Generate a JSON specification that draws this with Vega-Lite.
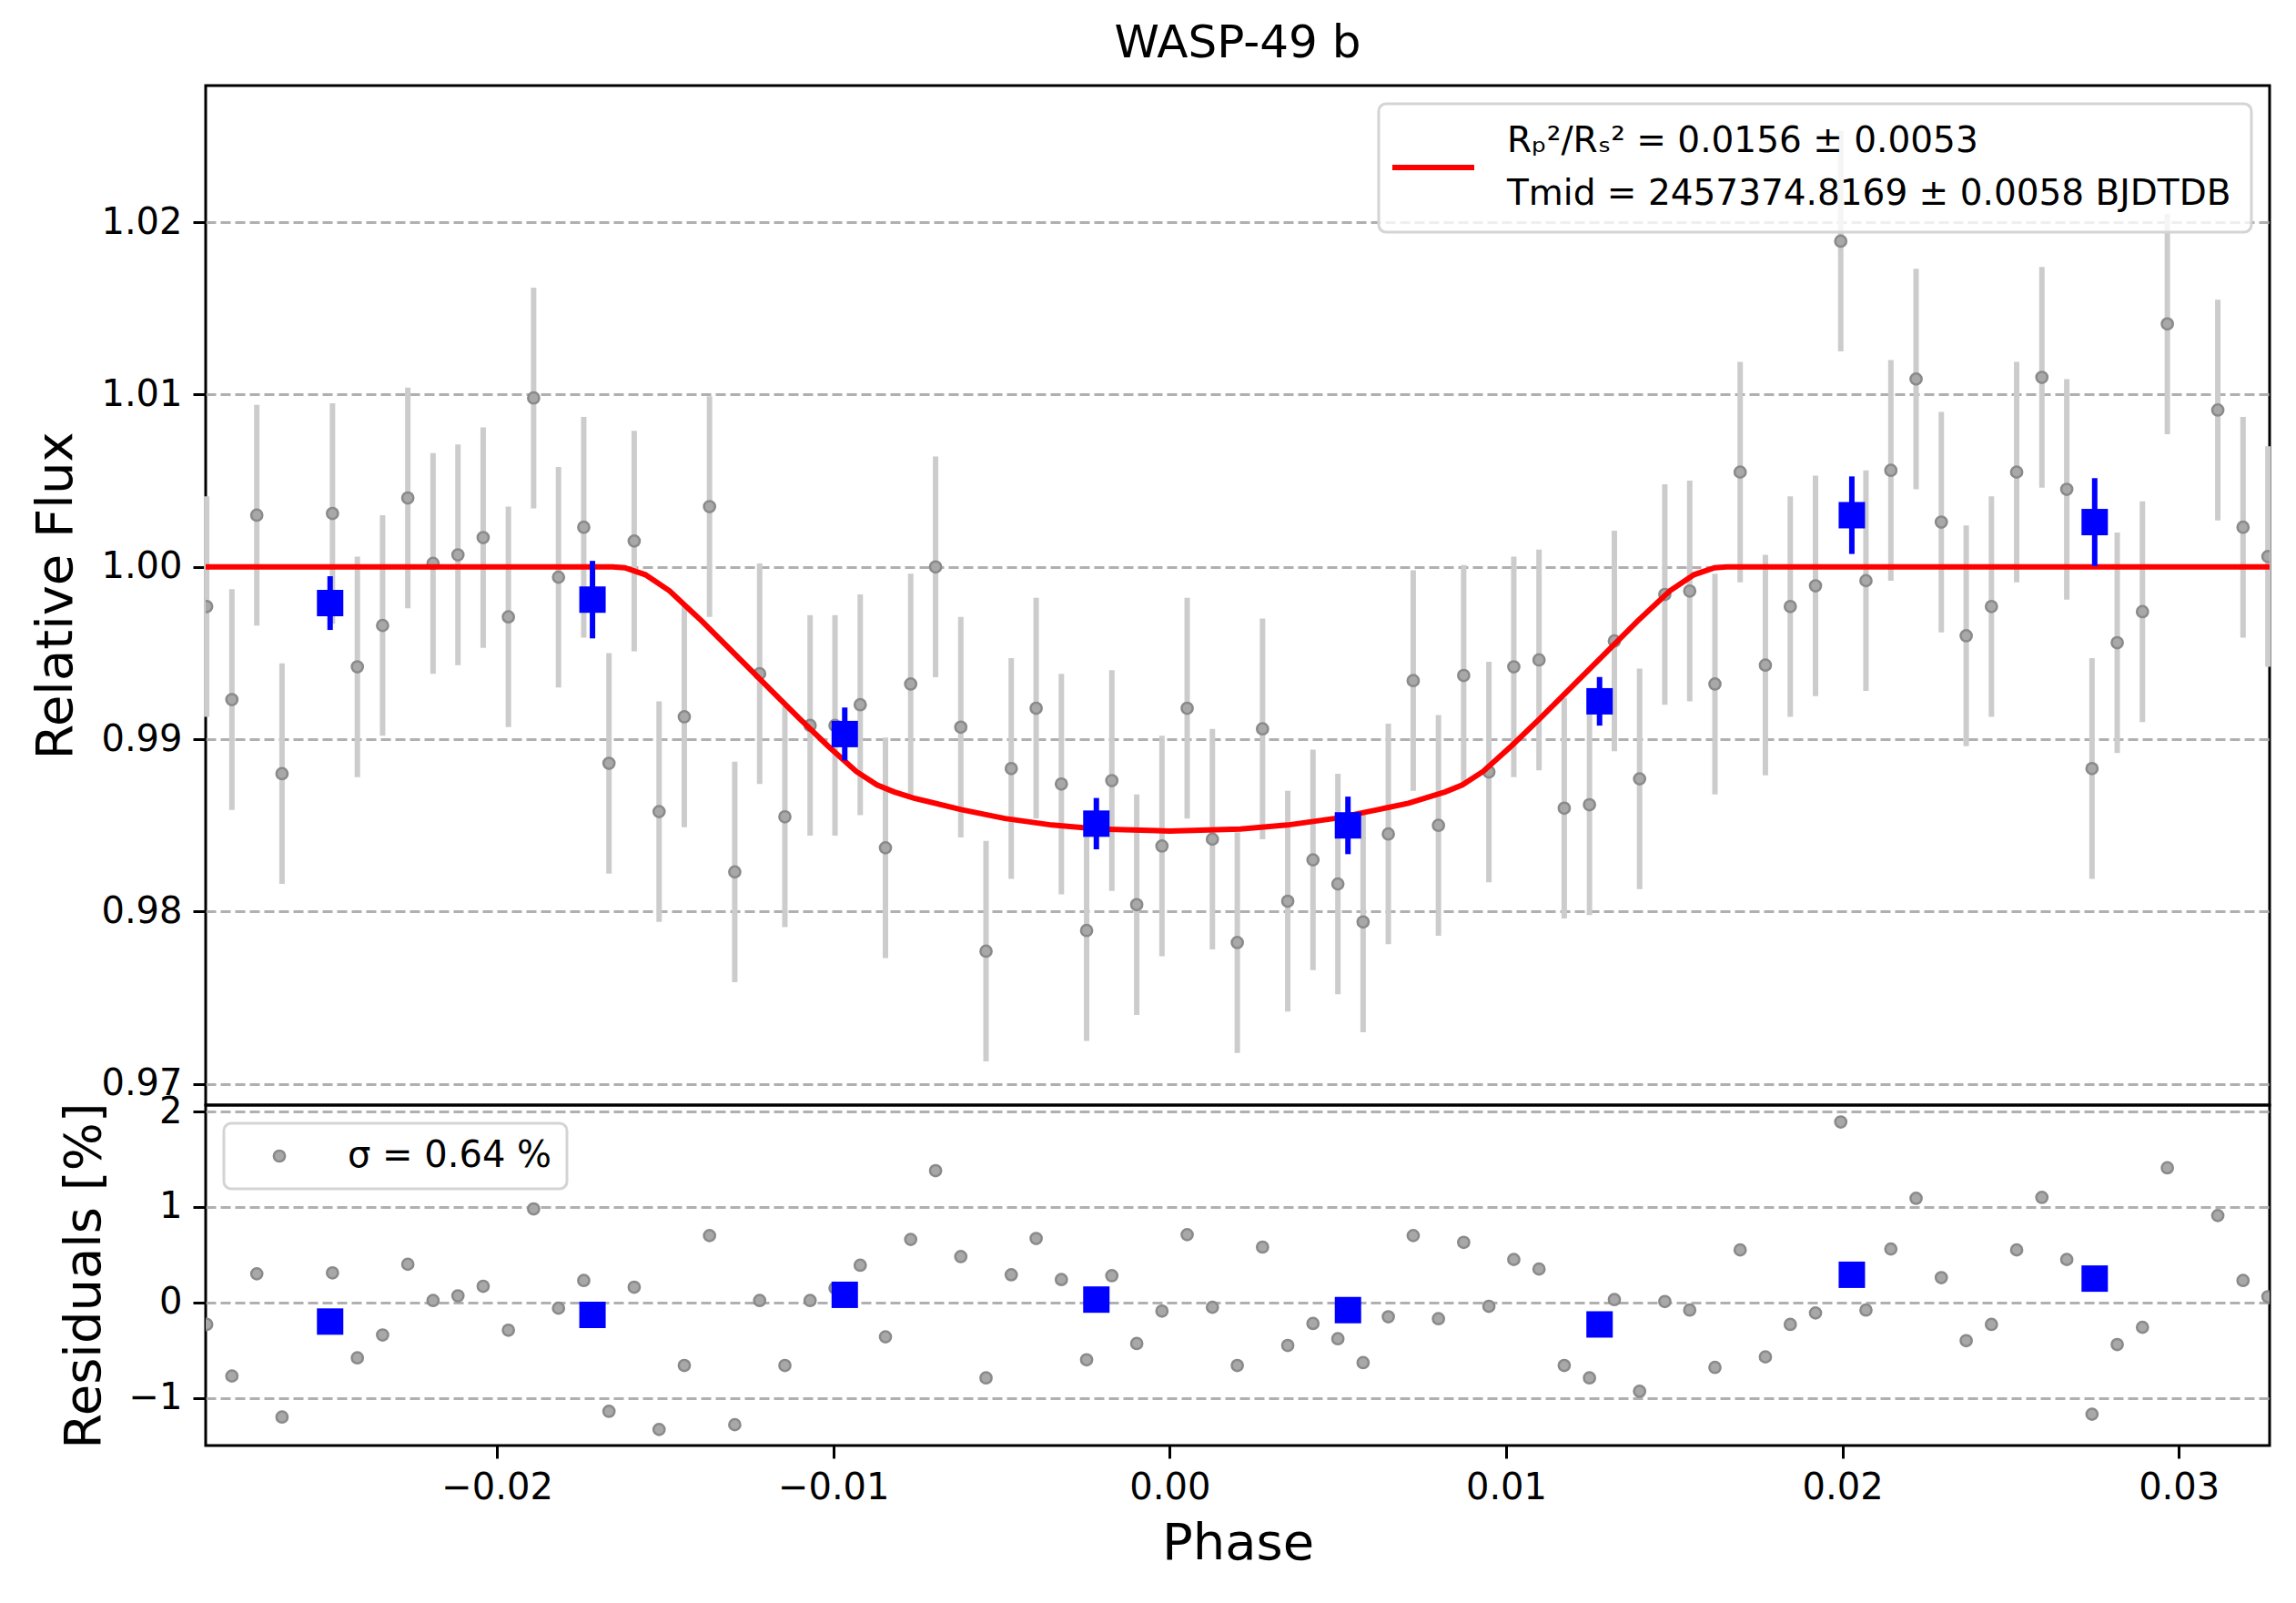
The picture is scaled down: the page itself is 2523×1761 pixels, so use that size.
{
  "$schema": "https://vega.github.io/schema/vega-lite/v6.json",
  "padding": {"left": 32, "top": 22, "right": 20, "bottom": 5},
  "title": {"text": "WASP-49 b", "fontSize": 50, "fontWeight": "normal", "font": "DejaVu Sans", "color": "black", "anchor": "middle", "frame": "group", "offset": 20},
  "datasets": {
    "obs": [
      {"phase": -0.02863, "flux": 0.9977, "err": 0.0064, "resid": -0.23},
      {"phase": -0.02788, "flux": 0.9923, "err": 0.0064, "resid": -0.77},
      {"phase": -0.02714, "flux": 1.0030, "err": 0.0064, "resid": 0.30},
      {"phase": -0.02639, "flux": 0.9880, "err": 0.0064, "resid": -1.20},
      {"phase": -0.02489, "flux": 1.0031, "err": 0.0064, "resid": 0.31},
      {"phase": -0.02415, "flux": 0.9942, "err": 0.0064, "resid": -0.58},
      {"phase": -0.02340, "flux": 0.9966, "err": 0.0064, "resid": -0.34},
      {"phase": -0.02265, "flux": 1.0040, "err": 0.0064, "resid": 0.40},
      {"phase": -0.02190, "flux": 1.0002, "err": 0.0064, "resid": 0.02},
      {"phase": -0.02116, "flux": 1.0007, "err": 0.0064, "resid": 0.07},
      {"phase": -0.02041, "flux": 1.0017, "err": 0.0064, "resid": 0.17},
      {"phase": -0.01966, "flux": 0.9971, "err": 0.0064, "resid": -0.29},
      {"phase": -0.01891, "flux": 1.0098, "err": 0.0064, "resid": 0.98},
      {"phase": -0.01817, "flux": 0.9994, "err": 0.0064, "resid": -0.06},
      {"phase": -0.01742, "flux": 1.0023, "err": 0.0064, "resid": 0.23},
      {"phase": -0.01667, "flux": 0.9886, "err": 0.0064, "resid": -1.14},
      {"phase": -0.01592, "flux": 1.0015, "err": 0.0064, "resid": 0.16},
      {"phase": -0.01518, "flux": 0.9858, "err": 0.0064, "resid": -1.33},
      {"phase": -0.01443, "flux": 0.9913, "err": 0.0064, "resid": -0.66},
      {"phase": -0.01368, "flux": 1.0035, "err": 0.0064, "resid": 0.70},
      {"phase": -0.01293, "flux": 0.9823, "err": 0.0064, "resid": -1.28},
      {"phase": -0.01219, "flux": 0.9938, "err": 0.0064, "resid": 0.02},
      {"phase": -0.01144, "flux": 0.9855, "err": 0.0064, "resid": -0.66},
      {"phase": -0.01069, "flux": 0.9908, "err": 0.0064, "resid": 0.02},
      {"phase": -0.00995, "flux": 0.9908, "err": 0.0064, "resid": 0.15},
      {"phase": -0.00920, "flux": 0.9920, "err": 0.0064, "resid": 0.39},
      {"phase": -0.00845, "flux": 0.9837, "err": 0.0064, "resid": -0.36},
      {"phase": -0.00770, "flux": 0.9932, "err": 0.0064, "resid": 0.66},
      {"phase": -0.00696, "flux": 1.0000, "err": 0.0064, "resid": 1.38},
      {"phase": -0.00621, "flux": 0.9907, "err": 0.0064, "resid": 0.48},
      {"phase": -0.00546, "flux": 0.9777, "err": 0.0064, "resid": -0.79},
      {"phase": -0.00471, "flux": 0.9883, "err": 0.0064, "resid": 0.29},
      {"phase": -0.00397, "flux": 0.9918, "err": 0.0064, "resid": 0.67},
      {"phase": -0.00322, "flux": 0.9874, "err": 0.0064, "resid": 0.24},
      {"phase": -0.00247, "flux": 0.9789, "err": 0.0064, "resid": -0.60},
      {"phase": -0.00172, "flux": 0.9876, "err": 0.0064, "resid": 0.28},
      {"phase": -0.00098, "flux": 0.9804, "err": 0.0064, "resid": -0.43},
      {"phase": -0.00023, "flux": 0.9838, "err": 0.0064, "resid": -0.09},
      {"phase": 0.00052, "flux": 0.9918, "err": 0.0064, "resid": 0.71},
      {"phase": 0.00127, "flux": 0.9842, "err": 0.0064, "resid": -0.05},
      {"phase": 0.00201, "flux": 0.9782, "err": 0.0064, "resid": -0.66},
      {"phase": 0.00276, "flux": 0.9906, "err": 0.0064, "resid": 0.58},
      {"phase": 0.00351, "flux": 0.9806, "err": 0.0064, "resid": -0.45},
      {"phase": 0.00426, "flux": 0.9830, "err": 0.0064, "resid": -0.22},
      {"phase": 0.00500, "flux": 0.9816, "err": 0.0064, "resid": -0.38},
      {"phase": 0.00575, "flux": 0.9794, "err": 0.0064, "resid": -0.63},
      {"phase": 0.00650, "flux": 0.9845, "err": 0.0064, "resid": -0.15},
      {"phase": 0.00724, "flux": 0.9934, "err": 0.0064, "resid": 0.70},
      {"phase": 0.00799, "flux": 0.9850, "err": 0.0064, "resid": -0.17},
      {"phase": 0.00874, "flux": 0.9937, "err": 0.0064, "resid": 0.63},
      {"phase": 0.00949, "flux": 0.9881, "err": 0.0064, "resid": -0.04},
      {"phase": 0.01023, "flux": 0.9942, "err": 0.0064, "resid": 0.45},
      {"phase": 0.01098, "flux": 0.9946, "err": 0.0064, "resid": 0.35},
      {"phase": 0.01173, "flux": 0.9860, "err": 0.0064, "resid": -0.66},
      {"phase": 0.01248, "flux": 0.9862, "err": 0.0064, "resid": -0.79},
      {"phase": 0.01322, "flux": 0.9957, "err": 0.0064, "resid": 0.03},
      {"phase": 0.01397, "flux": 0.9877, "err": 0.0064, "resid": -0.93},
      {"phase": 0.01472, "flux": 0.9984, "err": 0.0064, "resid": 0.01},
      {"phase": 0.01546, "flux": 0.9986, "err": 0.0064, "resid": -0.08},
      {"phase": 0.01621, "flux": 0.9932, "err": 0.0064, "resid": -0.68},
      {"phase": 0.01696, "flux": 1.0055, "err": 0.0064, "resid": 0.55},
      {"phase": 0.01771, "flux": 0.9943, "err": 0.0064, "resid": -0.57},
      {"phase": 0.01845, "flux": 0.9977, "err": 0.0064, "resid": -0.23},
      {"phase": 0.01920, "flux": 0.9989, "err": 0.0064, "resid": -0.11},
      {"phase": 0.01995, "flux": 1.0189, "err": 0.0064, "resid": 1.89},
      {"phase": 0.02070, "flux": 0.9992, "err": 0.0064, "resid": -0.08},
      {"phase": 0.02144, "flux": 1.0056, "err": 0.0064, "resid": 0.56},
      {"phase": 0.02219, "flux": 1.0109, "err": 0.0064, "resid": 1.09},
      {"phase": 0.02294, "flux": 1.0026, "err": 0.0064, "resid": 0.26},
      {"phase": 0.02368, "flux": 0.9960, "err": 0.0064, "resid": -0.40},
      {"phase": 0.02443, "flux": 0.9977, "err": 0.0064, "resid": -0.23},
      {"phase": 0.02518, "flux": 1.0055, "err": 0.0064, "resid": 0.55},
      {"phase": 0.02593, "flux": 1.0110, "err": 0.0064, "resid": 1.10},
      {"phase": 0.02667, "flux": 1.0045, "err": 0.0064, "resid": 0.45},
      {"phase": 0.02742, "flux": 0.9883, "err": 0.0064, "resid": -1.17},
      {"phase": 0.02817, "flux": 0.9956, "err": 0.0064, "resid": -0.44},
      {"phase": 0.02892, "flux": 0.9974, "err": 0.0064, "resid": -0.26},
      {"phase": 0.02966, "flux": 1.0141, "err": 0.0064, "resid": 1.41},
      {"phase": 0.03116, "flux": 1.0091, "err": 0.0064, "resid": 0.91},
      {"phase": 0.03191, "flux": 1.0023, "err": 0.0064, "resid": 0.23},
      {"phase": 0.03265, "flux": 1.0006, "err": 0.0064, "resid": 0.06}
    ],
    "model": [
      {"phase": -0.02866, "flux": 1.0},
      {"phase": -0.01656, "flux": 1.0},
      {"phase": -0.0162, "flux": 0.99995},
      {"phase": -0.01559, "flux": 0.99955},
      {"phase": -0.01487, "flux": 0.99861},
      {"phase": -0.0139, "flux": 0.99684},
      {"phase": -0.01294, "flux": 0.99496},
      {"phase": -0.01197, "flux": 0.99307},
      {"phase": -0.0110, "flux": 0.99119},
      {"phase": -0.01016, "flux": 0.98961},
      {"phase": -0.00932, "flux": 0.98813},
      {"phase": -0.0087, "flux": 0.98735},
      {"phase": -0.0082, "flux": 0.98695},
      {"phase": -0.0076, "flux": 0.98658},
      {"phase": -0.0062, "flux": 0.98592},
      {"phase": -0.0049, "flux": 0.98540},
      {"phase": -0.0035, "flux": 0.98502},
      {"phase": -0.0021, "flux": 0.98479},
      {"phase": 0.0, "flux": 0.98467},
      {"phase": 0.0021, "flux": 0.98479},
      {"phase": 0.0035, "flux": 0.98502},
      {"phase": 0.0049, "flux": 0.98540},
      {"phase": 0.0062, "flux": 0.98592},
      {"phase": 0.0071, "flux": 0.98629},
      {"phase": 0.0082, "flux": 0.98695},
      {"phase": 0.0087, "flux": 0.98735},
      {"phase": 0.00932, "flux": 0.98813},
      {"phase": 0.01016, "flux": 0.98961},
      {"phase": 0.0110, "flux": 0.99119},
      {"phase": 0.01197, "flux": 0.99307},
      {"phase": 0.01294, "flux": 0.99496},
      {"phase": 0.0139, "flux": 0.99684},
      {"phase": 0.01487, "flux": 0.99861},
      {"phase": 0.01559, "flux": 0.99955},
      {"phase": 0.0162, "flux": 0.99995},
      {"phase": 0.01656, "flux": 1.0},
      {"phase": 0.0327, "flux": 1.0}
    ],
    "bins": [
      {"phase": -0.02496, "flux": 0.9979, "err": 0.00156, "resid": -0.20},
      {"phase": -0.01716, "flux": 0.9981, "err": 0.00225, "resid": -0.13},
      {"phase": -0.00966, "flux": 0.9903, "err": 0.00154, "resid": 0.08},
      {"phase": -0.00218, "flux": 0.9851, "err": 0.00149, "resid": 0.03},
      {"phase": 0.00530, "flux": 0.9850, "err": 0.00167, "resid": -0.08},
      {"phase": 0.01278, "flux": 0.9922, "err": 0.00141, "resid": -0.23},
      {"phase": 0.02028, "flux": 1.0030, "err": 0.00225, "resid": 0.29},
      {"phase": 0.02750, "flux": 1.0026, "err": 0.00255, "resid": 0.25}
    ]
  },
  "vconcat": [
    {
      "width": 2268,
      "height": 1120,
      "encoding": {
        "x": {"field": "phase", "type": "quantitative", "scale": {"domain": [-0.02866, 0.0327], "nice": false, "zero": false}, "axis": null},
        "y": {"field": "flux", "type": "quantitative", "scale": {"domain": [0.96877, 1.02793], "nice": false, "zero": false},
              "axis": {"title": "Relative Flux", "values": [0.97, 0.98, 0.99, 1.0, 1.01, 1.02], "format": ".2f"}}
      },
      "layer": [
        {"data": {"name": "obs"}, "mark": {"type": "errorbar", "color": "#cccccc", "thickness": 6},
         "encoding": {"yError": {"field": "err"}}},
        {"data": {"name": "obs"}, "mark": {"type": "circle", "size": 150, "color": "#a8a8a8", "opacity": 1, "stroke": "#8a8a8a", "strokeWidth": 2.5, "clip": true}},
        {"data": {"name": "model"}, "mark": {"type": "line", "strokeWidth": 6, "clip": true},
         "encoding": {"color": {"datum": "model", "scale": {"range": ["#ff0000"]},
           "legend": {"title": null, "orient": "top-right", "offset": 20, "labelFontSize": 39, "labelLimit": 3000, "labelOffset": 33,
             "symbolType": "stroke", "symbolStrokeWidth": 6, "symbolSize": 8100, "symbolOffset": -10, "padding": 22,
             "strokeColor": "#d4d4d4", "fillColor": "rgba(255,255,255,0.8)", "cornerRadius": 8,
             "labelExpr": "['Rₚ²/Rₛ² = 0.0156 ± 0.0053', 'Tmid = 2457374.8169 ± 0.0058 BJDTDB']",
             "encode": {"labels": {"update": {"lineHeight": {"value": 58}, "dy": {"value": -29}}}}}}}},
        {"data": {"name": "bins"}, "mark": {"type": "errorbar", "color": "#0000ff", "thickness": 6},
         "encoding": {"yError": {"field": "err"}}},
        {"data": {"name": "bins"}, "mark": {"type": "square", "size": 841, "color": "#0000ff", "opacity": 1}}
      ]
    },
    {
      "width": 2268,
      "height": 374,
      "encoding": {
        "x": {"field": "phase", "type": "quantitative", "scale": {"domain": [-0.02866, 0.0327], "nice": false, "zero": false},
              "axis": {"title": "Phase", "values": [-0.02, -0.01, 0, 0.01, 0.02, 0.03], "format": ".2f", "titlePadding": 14}},
        "y": {"field": "resid", "type": "quantitative", "scale": {"domain": [-1.498, 2.067], "nice": false, "zero": false},
              "axis": {"title": "Residuals [%]", "values": [-1, 0, 1, 2], "format": "d"}}
      },
      "layer": [
        {"data": {"name": "obs"}, "mark": {"type": "circle", "size": 150, "opacity": 1, "stroke": "#8a8a8a", "strokeWidth": 2.5, "clip": true},
         "encoding": {"color": {"datum": "σ = 0.64 %", "scale": {"range": ["#a8a8a8"]},
           "legend": {"title": null, "orient": "top-left", "offset": 20, "labelFontSize": 40, "labelLimit": 3000,
             "symbolType": "circle", "symbolSize": 150, "symbolStrokeColor": "#8a8a8a", "symbolStrokeWidth": 2.5, "symbolOffset": 25, "labelOffset": 55,
             "padding": 16, "strokeColor": "#d4d4d4", "fillColor": "rgba(255,255,255,0.8)", "cornerRadius": 8}}}},
        {"data": {"name": "bins"}, "mark": {"type": "square", "size": 841, "color": "#0000ff", "opacity": 1}}
      ]
    }
  ],
  "spacing": 0,
  "bounds": "flush",
  "resolve": {"scale": {"color": "independent", "y": "independent"}, "legend": {"color": "independent"}},
  "config": {
    "font": "DejaVu Sans",
    "view": {"stroke": "black", "strokeWidth": 3},
    "axis": {"domain": false, "labelFont": "DejaVu Sans", "labelFontSize": 40, "labelColor": "black", "labelPadding": 12,
             "tickColor": "black", "tickWidth": 3, "tickSize": 14, "titleFont": "DejaVu Sans", "titleFontSize": 56,
             "titleFontWeight": "normal", "titleColor": "black", "gridColor": "#b0b0b0", "gridDash": [11, 5], "gridWidth": 3},
    "axisX": {"grid": false},
    "axisY": {"grid": true, "titlePadding": 20},
    "legend": {"labelFont": "DejaVu Sans", "labelColor": "black", "strokeWidth": 3}
  }
}
